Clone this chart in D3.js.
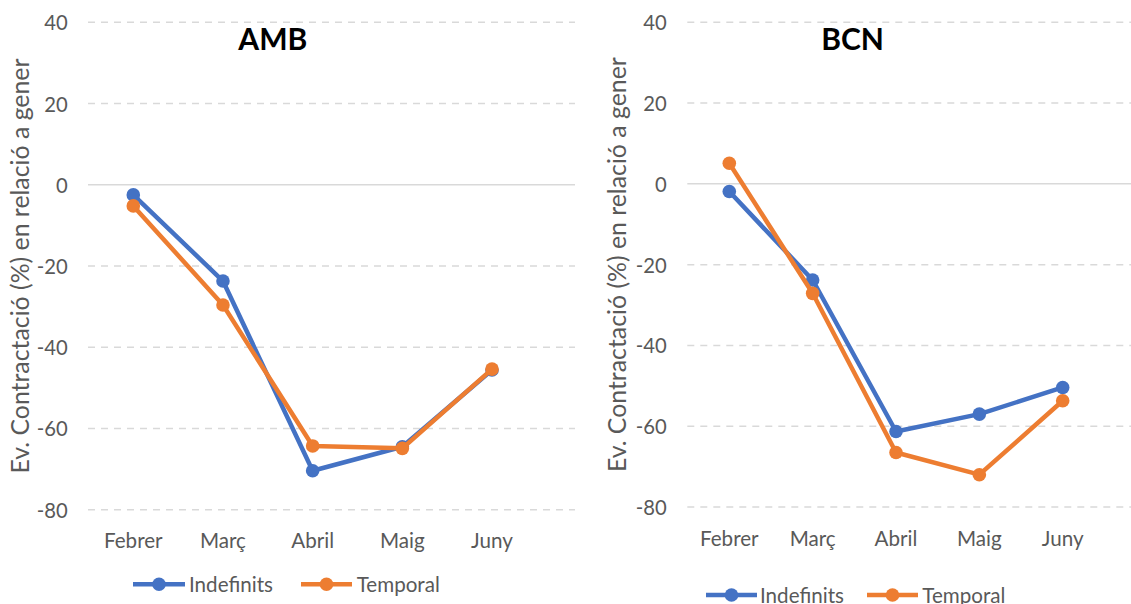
<!DOCTYPE html>
<html>
<head>
<meta charset="utf-8">
<script src="https://cdn.jsdelivr.net/npm/d3@7"></script>
<style>
  html, body { margin: 0; padding: 0; background: #fff; }
  svg { display: block; }
  text { font-family: Lato, "Open Sans", sans-serif; }
</style>
</head>
<body>
<svg id="chart" width="1131" height="604"></svg>
<script>
const months = ["Febrer", "Març", "Abril", "Maig", "Juny"];
const seriesNames = ["Indefinits", "Temporal"];
const seriesColors = ["#4472C4", "#ED7D31"];
const yTicks = [40, 20, 0, -20, -40, -60, -80];
const ambIndefinits = [-2.5, -23.7, -70.4, -64.5, -45.6];
const ambTemporal = [-5.2, -29.6, -64.3, -64.9, -45.4];
const bcnIndefinits = [-1.9, -23.8, -61.3, -57.0, -50.4];
const bcnTemporal = [5.1, -27.1, -66.5, -72.0, -53.7];
const axisTitle = "Ev. Contractació (%) en relació a gener";

const panels = [
  { title: "AMB", series: [ambIndefinits, ambTemporal],
    gridX: [88, 575], catX: [133.3, 492], yR: [509.7, 22.3],
    tickX: 67.7, axisTitleX: 19, titleX: 272.8, catY: 548,
    legendY: 584.3, legendLine: [[133, 185], [301, 352]], legendText: [189, 356.7] },
  { title: "BCN", series: [bcnIndefinits, bcnTemporal],
    gridX: [687.3, 1131], catX: [729.3, 1062.7], yR: [507, 22.3],
    tickX: 666.7, axisTitleX: 616, titleX: 852.5, catY: 545.5,
    legendY: 595, legendLine: [[706, 757], [867, 918]], legendText: [760, 922.3] }
];

const svg = d3.select("#chart");

// fit a font size so that a reference text reaches a target width
function fitSize(str, target) {
  const t = svg.append("text").attr("font-size", 20).text(str);
  const w = t.node().getComputedTextLength();
  t.remove();
  return 20 * target / w;
}
const catSize = fitSize("Febrer", 58.7);
const legSize = fitSize("Indefinits", 84);
const tickSize = Math.min(21, fitSize("-80", 31));

panels.forEach(p => {
  const g = svg.append("g");
  const x = d3.scalePoint().domain(months).range(p.catX);
  const y = d3.scaleLinear().domain([-80, 40]).range(p.yR);

  // gridlines
  g.selectAll("line.grid").data(yTicks).join("line")
    .attr("x1", p.gridX[0]).attr("x2", p.gridX[1])
    .attr("y1", d => y(d)).attr("y2", d => y(d))
    .attr("stroke", "#d9d9d9").attr("stroke-width", 1.5)
    .attr("stroke-dasharray", d => d === 0 ? null : "7,6");

  // y tick labels
  g.selectAll("text.ytick").data(yTicks).join("text")
    .attr("x", p.tickX).attr("y", d => y(d))
    .attr("text-anchor", "end").attr("dominant-baseline", "central")
    .attr("fill", "#595959").attr("font-size", tickSize)
    .text(d => d);

  // category labels
  g.selectAll("text.cat").data(months).join("text")
    .attr("x", d => x(d)).attr("y", p.catY)
    .attr("text-anchor", "middle")
    .attr("fill", "#595959").attr("font-size", catSize)
    .text(d => d);

  // axis title
  const yMid = (p.yR[0] + p.yR[1]) / 2;
  const at = g.append("text")
    .attr("transform", `translate(${p.axisTitleX},${yMid}) rotate(-90)`)
    .attr("text-anchor", "middle").attr("dominant-baseline", "central")
    .attr("fill", "#595959").attr("font-size", 20)
    .text(axisTitle);
  const w = at.node().getComputedTextLength();
  at.attr("font-size", 20 * 415 / w);

  // title
  g.append("text")
    .attr("x", p.titleX).attr("y", 50)
    .attr("text-anchor", "middle")
    .attr("font-family", "Liberation Sans, Arial, sans-serif")
    .attr("font-weight", "bold").attr("font-size", 30)
    .attr("fill", "#000")
    .text(p.title);

  // series
  const line = d3.line().x((d, i) => x(months[i])).y(d => y(d));
  p.series.forEach((vals, si) => {
    g.append("path").datum(vals)
      .attr("d", line)
      .attr("fill", "none")
      .attr("stroke", seriesColors[si]).attr("stroke-width", 4.5)
      .attr("stroke-linejoin", "round");
    g.selectAll(null).data(vals).join("circle")
      .attr("cx", (d, i) => x(months[i])).attr("cy", d => y(d))
      .attr("r", 6.8).attr("fill", seriesColors[si]);
  });

  // legend
  seriesNames.forEach((name, si) => {
    const [lx1, lx2] = p.legendLine[si];
    g.append("line")
      .attr("x1", lx1).attr("x2", lx2)
      .attr("y1", p.legendY).attr("y2", p.legendY)
      .attr("stroke", seriesColors[si]).attr("stroke-width", 4.5);
    g.append("circle")
      .attr("cx", (lx1 + lx2) / 2).attr("cy", p.legendY)
      .attr("r", 6.8).attr("fill", seriesColors[si]);
    g.append("text")
      .attr("x", p.legendText[si]).attr("y", p.legendY)
      .attr("dominant-baseline", "central")
      .attr("fill", "#595959").attr("font-size", legSize)
      .text(name);
  });
});
</script>
</body>
</html>
